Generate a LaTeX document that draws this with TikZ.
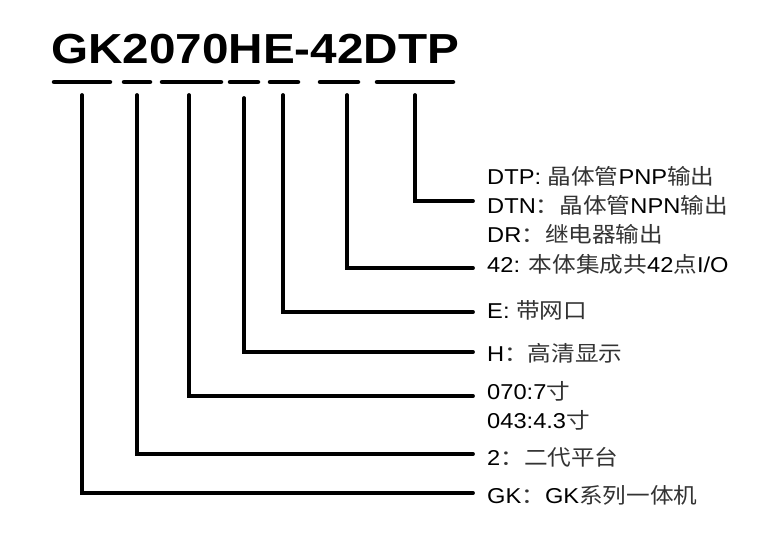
\documentclass[tikz,border=0pt]{standalone}
\usepackage{fontspec}
\setmainfont{Liberation Sans}
\newfontfamily\zhfont{Noto Sans CJK SC}
\newcommand{\zh}[1]{{\zhfont\color{black!80}#1}}

\begin{document}
\begin{tikzpicture}[x=1pt,y=-1pt,
  bar/.style={line width=4.5pt,line cap=round},
  lead/.style={line width=3.8pt,line cap=round,line join=miter},
  lbl/.style={anchor=base west,inner sep=0pt,xscale=1.1,font=\fontsize{21.5}{24}\selectfont}]
\useasboundingbox (0,0) rectangle (773,546);

\node[anchor=base west,inner sep=0pt,xscale=1.135,font=\fontsize{42}{48}\bfseries\selectfont] (title) at (51,63) {GK2070HE-42DTP};

\foreach \a/\b in {52/112,122/152,160/223,228/260,268/300,318/360,375/455}
  \draw[bar] (\a+2,82) -- (\b-2,82);

\node[lbl] (dtp) at (487,184) {DTP: \zh{晶体管}PNP\zh{输出}};
\node[lbl] (dtn) at (487,213) {DTN\zh{：晶体管}NPN\zh{输出}};
\node[lbl] (dr) at (487,242) {DR\zh{：继电器输出}};
\node[lbl] (io) at (487,272) {42: \zh{本体集成共}42\zh{点}I/O};
\node[lbl] (net) at (487,318) {E: \zh{带网口}};
\node[lbl] (hd) at (487,361) {H\zh{：高清显示}};
\node[lbl] (s7) at (487,399) {070:7\zh{寸}};
\node[lbl] (s43) at (487,428) {043:4.3\zh{寸}};
\node[lbl] (gen) at (487,465) {2\zh{：二代平台}};
\node[lbl] (gk) at (487,503) {GK\zh{：}GK\zh{系列一体机}};

\foreach \x/\t/\y/\n in {82/95/493/gk,137/95/454/gen,189/95/396/s7,244/98/352/hd,
    283/95/312/net,347/95/268/io,415/95/201/dtn} {
  \coordinate (\n top) at (\x,\t);
  \coordinate (\n end) at (473,\y);
  \draw[lead] (\n top) |- (\n end);
}

\end{tikzpicture}
\end{document}
